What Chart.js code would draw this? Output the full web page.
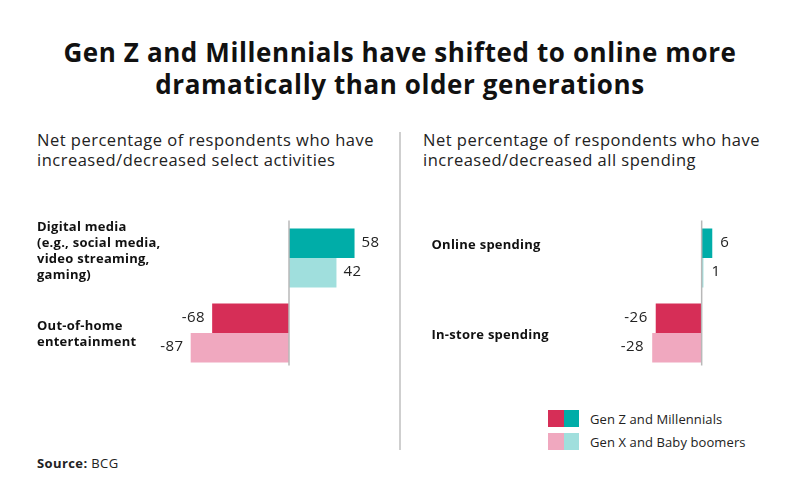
<!DOCTYPE html>
<html>
<head>
<meta charset="utf-8">
<script src="https://cdn.jsdelivr.net/npm/chart.js@4"></script>
<style>
  html, body { margin: 0; padding: 0; background: #fff; }
  body { width: 800px; height: 503px; position: relative; overflow: hidden; font-family: "Open Sans", sans-serif; color: #1a1a1a; }
  .title { position: absolute; left: 0; top: 36px; width: 800px; text-align: center; font-weight: 700; font-size: 26px; letter-spacing: 0.6px; line-height: 32px; color: #111; }
  .sub { position: absolute; top: 130px; font-size: 16.5px; letter-spacing: 0.5px; line-height: 20px; color: #222; }
  .divider { position: absolute; left: 399px; top: 132px; width: 1.5px; height: 318px; background: #cfcfcf; }
  .legend { position: absolute; left: 548px; top: 407px; font-size: 13px; letter-spacing: 0.1px; color: #222; }
  .legend .row { display: flex; align-items: center; height: 23px; }
  .legend .sw { width: 15.5px; height: 17px; }
  .legend .txt { margin-left: 11px; }
  .source { position: absolute; left: 37px; top: 454px; font-size: 13px; letter-spacing: 0.4px; color: #222; }
  canvas { position: absolute; }
</style>
</head>
<body>
<div class="title">Gen Z and Millennials have shifted to online more<br>dramatically than older generations</div>
<div class="sub" style="left:37px">Net percentage of respondents who have<br>increased/decreased select activities</div>
<div class="sub" style="left:423px">Net percentage of respondents who have<br>increased/decreased all spending</div>
<div class="divider"></div>
<div class="legend">
  <div class="row"><div class="sw" style="background:#d62e57"></div><div class="sw" style="background:#00ada8"></div><div class="txt">Gen Z and Millennials</div></div>
  <div class="row"><div class="sw" style="background:#f0a8bf"></div><div class="sw" style="background:#a0dfdd"></div><div class="txt">Gen X and Baby boomers</div></div>
</div>
<div class="source"><b>Source:</b> BCG</div>
<canvas id="c1" width="400" height="180" style="left:0;top:200px;width:400px;height:180px"></canvas>
<canvas id="c2" width="400" height="180" style="left:400px;top:200px;width:400px;height:180px"></canvas>
<script>
const activityCategories = [["Digital media", "(e.g., social media,", "video streaming,", "gaming)"], ["Out-of-home", "entertainment"]];
const activityGenZ = [58, -68];
const activityGenX = [42, -87];
const spendingCategories = [["Online spending"], ["In-store spending"]];
const spendingGenZ = [6, -26];
const spendingGenX = [1, -28];
const seriesNames = ["Gen Z and Millennials", "Gen X and Baby boomers"];

const COLORS = {
  genZ: { pos: "#00ada8", neg: "#d62e57" },
  genX: { pos: "#a0dfdd", neg: "#f0a8bf" }
};

const decorPlugin = {
  id: "decor",
  afterDatasetsDraw(chart) {
    const ctx = chart.ctx;
    const opts = chart.options.plugins.decor;
    const xs = chart.scales.x, ys = chart.scales.y;
    const x0 = xs.getPixelForValue(0);
    ctx.save();
    // zero line
    ctx.strokeStyle = "#b8b8b8";
    ctx.lineWidth = 1.5;
    ctx.beginPath();
    ctx.moveTo(x0, chart.chartArea.top);
    ctx.lineTo(x0, chart.chartArea.bottom - 5);
    ctx.stroke();
    // value labels
    ctx.font = "15px 'Open Sans', sans-serif";
    ctx.letterSpacing = "0.5px";
    ctx.fillStyle = "#222";
    ctx.textBaseline = "middle";
    chart.data.datasets.forEach((ds, di) => {
      const meta = chart.getDatasetMeta(di);
      meta.data.forEach((bar, i) => {
        const v = ds.data[i];
        if (v >= 0) {
          ctx.textAlign = "left";
          ctx.fillText(String(v), bar.x + opts.gap, bar.y - 1);
        } else {
          ctx.textAlign = "right";
          ctx.fillText(String(v), bar.x - opts.gap, bar.y - 1);
        }
      });
    });
    // category labels
    ctx.font = "bold 13px 'Open Sans', sans-serif";
    ctx.letterSpacing = "0.25px";
    ctx.fillStyle = "#111";
    ctx.textAlign = "left";
    chart.data.labels.forEach((lines, i) => {
      const cy = ys.getPixelForValue(i) + opts.labelOffsets[i];
      const lh = 16;
      const start = cy - (lines.length - 1) * lh / 2;
      lines.forEach((ln, k) => ctx.fillText(ln, opts.labelX, start + k * lh));
    });
    ctx.restore();
  }
};

function makeChart(id, labels, genZ, genX, xmin, xmax, padL, padR, labelX, labelOffsets, gap) {
  const color = (key) => (c) => (c.raw >= 0 ? COLORS[key].pos : COLORS[key].neg);
  return new Chart(document.getElementById(id), {
    type: "bar",
    data: {
      labels: labels,
      datasets: [
        { label: seriesNames[0], data: genZ, backgroundColor: color("genZ"), borderWidth: 0 },
        { label: seriesNames[1], data: genX, backgroundColor: color("genX"), borderWidth: 0 }
      ]
    },
    options: {
      indexAxis: "y",
      responsive: false,
      animation: false,
      maintainAspectRatio: false,
      layout: { padding: { left: padL, right: padR, top: 20.5, bottom: 9.5 } },
      datasets: { bar: { barPercentage: 1, categoryPercentage: 0.787 } },
      scales: {
        x: { display: false, min: xmin, max: xmax },
        y: { display: false }
      },
      plugins: {
        legend: { display: false },
        tooltip: { enabled: false },
        decor: { labelX: labelX, labelOffsets: labelOffsets, gap: gap }
      }
    },
    plugins: [decorPlugin]
  });
}

makeChart("c1", activityCategories, activityGenZ, activityGenX, -100, 80, 176, 20.6, 37, [-7, 1], 7);
makeChart("c2", spendingCategories, spendingGenZ, spendingGenX, -40, 20, 231, 63, 31.5, [-13, 2], 8);
</script>
</body>
</html>
